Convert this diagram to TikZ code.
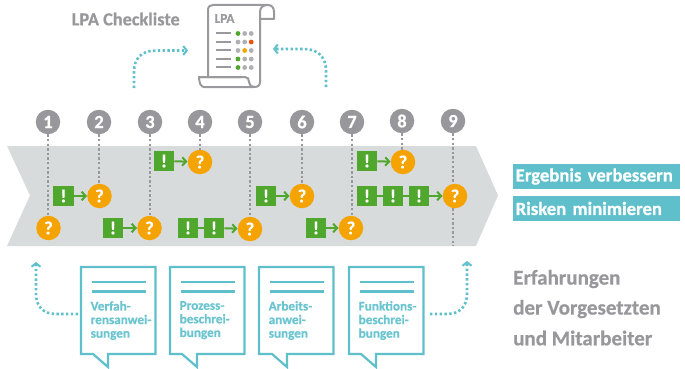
\documentclass[tikz,border=0pt]{standalone}
\usepackage{fontspec}
\setmainfont[BoldFeatures={FakeBold=0.6}]{Carlito}
\usetikzlibrary{arrows.meta}
\definecolor{teal1}{HTML}{5FC0CC}
\definecolor{tealtxt}{HTML}{6BC5D0}
\definecolor{grn}{HTML}{4FA82D}
\definecolor{org}{HTML}{F5A300}
\definecolor{gry}{HTML}{98989C}
\definecolor{band}{HTML}{D7DBDB}
\definecolor{scrollc}{HTML}{9A9A9E}
\definecolor{dotg}{HTML}{B0B0B4}
\definecolor{redd}{HTML}{E8540F}
\tikzset{
 x=1pt,y=-1pt,
 numc/.style={circle,fill=gry,minimum size=24.5pt,inner sep=0pt,text=white,font=\bfseries\fontsize{18.5}{18.5}\selectfont},
 ques/.style={circle,fill=org,minimum size=24.5pt,inner sep=0pt,text=white,font=\bfseries\fontsize{18.5}{18.5}\selectfont},
 excl/.style={rectangle,fill=grn,minimum size=20.5pt,inner sep=0pt,text=white,font=\bfseries\fontsize{18.5}{18.5}\selectfont},
 drop/.style={draw=gry,line width=2.9pt,dash pattern=on 2.4pt off 2.2pt},
 act/.style={draw=grn,line width=2pt,-{Straight Barb[length=4pt,width=8.5pt,line width=2pt]}},
 lnk/.style={draw=grn,line width=2pt},
 flow/.style={draw=teal1,line width=2.6pt,dash pattern=on 2.4pt off 2.4pt,-{Straight Barb[length=3.5pt,width=9pt,line width=2pt]}},
 docbox/.style={draw=teal1,line width=2.2pt,fill=white,line join=miter},
 docrule/.style={draw=teal1,line width=2.2pt},
 doctxt/.style={anchor=north west,inner sep=0pt,text=tealtxt,align=left,font=\bfseries\fontsize{13.2}{13.6}\selectfont},
 greytxt/.style={anchor=west,inner sep=0pt,text=gry,font=\bfseries\fontsize{21}{21}\selectfont},
 goal/.style={anchor=west,fill=teal1,text=white,minimum width=167pt,minimum height=25pt,inner sep=0pt,text width=162pt,align=left,font=\bfseries\fontsize{18.7}{18.7}\selectfont},
 scrollp/.style={draw=scrollc,line width=2pt,line join=round,fill=white},
 srow/.style={draw=scrollc,line width=2pt},
 sdot/.style={circle,inner sep=0pt,minimum size=4.8pt},
}
\begin{document}
\begin{tikzpicture}
\useasboundingbox (0,0) rectangle (685,369);
% band
\fill[band] (7,146) -- (476,146) -- (498,195.5) -- (476,246) -- (7,246) -- (30,195.5) -- cycle;
% numbers
\foreach \n/\x/\y in {1/48/122,2/99/122,3/150/122,4/200/122,5/250/122,6/302/122,7/352/122,8/402/121,9/453/121}
  \node[numc] (n\n) at (\x,\y) {\n};
% questions
\foreach \n/\x/\y in {1/48.5/228,2/99.5/196,3/149.5/228,4/200/162,5/250/229,6/302/196,7/351/228,8/403/162,9/455/196}
  \node[ques] (q\n) at (\x,\y) {?};
% drop lines
\foreach \n in {1,...,9}
  \draw[drop] (n\n.south) -- (n\n.south |- q\n.north);
\coordinate (bandend) at (453,246);
\draw[drop] (q9.south -| n9.south) -- (bandend);
% actions
\foreach \m/\x/\y in {a/63.5/196,b/113/228,c/164/161,d/188/228,e/214/228,f/266/196,g/316/228,h/367/161,i/367/196,j/393/196,k/419/196}
  \node[excl] (\m) at (\x,\y) {!};
\draw[act] (a) -- (q2);
\draw[act] (b) -- (q3);
\draw[act] (c) -- (q4);
\draw[lnk] (d) -- (e);
\draw[act] (e) -- (q5);
\draw[act] (f) -- (q6);
\draw[act] (g) -- (q7);
\draw[act] (h) -- (q8);
\draw[lnk] (i) -- (j);
\draw[lnk] (j) -- (k);
\draw[act] (k) -- (q9);
% scroll
\draw[scrollp] (208,77) -- (208,10) .. controls (208,6.5) and (210,5) .. (213,5) -- (268,5)
  .. controls (272,5) and (274,8) .. (274,12) -- (274,19) -- (260,19) -- (260,82)
  .. controls (260,85.5) and (258,87) .. (254,87) -- (204,87)
  .. controls (201,87) and (199,83) .. (199,77) -- (241,77) -- cycle;
\draw[scrollp,fill=none] (260,19) -- (260,12) .. controls (260,7.5) and (263,5) .. (268,5);
\draw[scrollp,fill=none] (199,77) -- (245,77) .. controls (248,77) and (249,79) .. (249,82) .. controls (249,85) and (251,87) .. (254,87);
\node[anchor=west,inner sep=0pt,text=scrollc,font=\bfseries\fontsize{13.2}{13.2}\selectfont] (lpa) at (214.5,18.5) {LPA};
\foreach \y/\a/\b/\c in {33.5/grn/dotg/dotg,42/dotg/dotg/redd,50.5/dotg/org/dotg,59/grn/dotg/dotg,67.5/grn/dotg/dotg}{
  \draw[srow] (215.5,\y) -- (230.5,\y);
  \node[sdot,fill=\a] at (238,\y) {};
  \node[sdot,fill=\b] at (244.7,\y) {};
  \node[sdot,fill=\c] at (251.2,\y) {};
}
\node[greytxt,font=\bfseries\fontsize{18.3}{18.3}\selectfont] (title) at (71.5,19) {LPA Checkliste};
% top flows
\coordinate (tl0) at (134,88); \coordinate (tl1) at (188,50.5);
\coordinate (tr0) at (326,87); \coordinate (tr1) at (273,49);
\draw[flow] (tl0) -- (134,72) .. controls (134,58) and (142,50.5) .. (156,50.5) -- (tl1);
\draw[flow] (tr0) -- (326,71) .. controls (326,57) and (318,49) .. (304,49) -- (tr1);
% docs
\foreach \m/\x/\t/\txt in {
  A/81/93/{Verfah-\\rensanwei-\\sungen},
  B/170/182/{Prozess-\\beschrei-\\bungen},
  C/259/272/{Arbeits-\\anwei-\\sungen},
  D/349/361/{Funktions-\\beschrei-\\bungen}}{
  \draw[docbox] (\x,267) -- ++(74.5,0) -- ++(0,87) -- (\t+15,354) -- (\t+15,367) -- (\t,354) -- (\x,354) -- cycle;
  \draw[docrule] (\x+10.5,282) -- ++(54.5,0);
  \draw[docrule] (\x+10.5,291.5) -- ++(54.5,0);
  \node[doctxt] (doc\m) at (\x+9.5,301) {\txt};
}
% bottom flows
\coordinate (bl0) at (78,314); \coordinate (bl1) at (36,262);
\coordinate (br0) at (430,314); \coordinate (br1) at (467,261);
\draw[flow] (bl0) -- (56,314) .. controls (43,314) and (36,306) .. (36,294) -- (bl1);
\draw[flow] (br0) -- (447,314) .. controls (460,314) and (467,306) .. (467,294) -- (br1);
% right
\node[goal] (g1) at (513,176.5) {Ergebnis verbessern};
\node[goal] (g2) at (513,208.5) {Risken minimieren};
\node[greytxt] (e1) at (513,279) {Erfahrungen};
\node[greytxt] (e2) at (513,309) {der Vorgesetzten};
\node[greytxt] (e3) at (513,338) {und Mitarbeiter};
\end{tikzpicture}
\end{document}
